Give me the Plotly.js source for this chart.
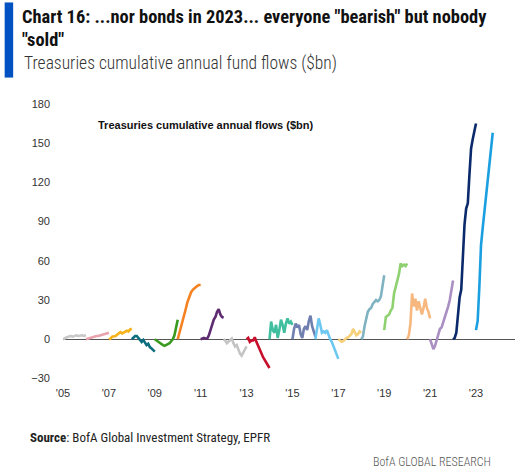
<!DOCTYPE html>
<html><head><meta charset="utf-8">
<script src="https://cdn.plot.ly/plotly-3.0.1.min.js"></script>
<style>body{margin:0;background:#fff}</style>
</head>
<body>
<div id="chart" style="width:515px;height:475px"></div>
<script>
// ---- data: Treasuries cumulative annual fund flows ($bn), one series per calendar year ----
const years = [2005,2006,2007,2008,2009,2010,2011,2012,2013,2014,2015,2016,2017,2018,2019,2020,2021,2022,2023];
const flows2005 = [0, 1, 1.5, 2, 2.5, 2, 2.5, 3, 2.5, 3, 3, 2.5, 3];
const flows2006 = [0, 0.5, 1, 1.5, 2, 2, 2.5, 2.5, 3, 3, 3.5, 4, 5, 5];
const flows2007 = [0, 0.5, 2, 2, 2.5, 3.5, 4.5, 5.5, 4.5, 5, 6, 6.5, 6, 7.5, 8];
const flows2008 = [0, 1.5, 2.5, 2.5, 1, -1, -2, -0.5, -3, -4.5, -3.5, -6, -7, -8.5, -9.5];
const flows2009 = [0, -1, -2, -3, -3.5, -4.5, -5, -4.5, -4, -3, -1.5, 0, 3, 9, 15];
const flows2010 = [0, 5, 10, 16, 22, 28, 33, 36, 38, 39.5, 40.5, 41.5, 41.5];
const flows2011 = [0, 0.5, 1, 0.5, 0.5, 3, 7, 11, 15, 17, 21, 23, 19, 17, 16.5];
const flows2012 = [0, -1, -3, -2, -1, 0.5, -3, -5.5, -4.5, -8, -11, -12.5, -10, -7, -5.5];
const flows2013 = [0, 1, -2, -1, -1, 1.5, -2, -4.5, -8, -10.5, -13.5, -15.5, -18, -20.5, -22];
const flows2014 = [0, 13.5, 7, 5, 11, 1, 7, 15, 11, 5, 12, 16, 12, 13.5, 11];
const flows2015 = [0, 8, 12, 9, 11, 4, 1, 8, 10, 7, 14, 18, 10, 6, 2];
const flows2016 = [0, 10, 16, 11, 5, 6, 5, 7, 3, 0, -2, -5, -8, -12, -15];
const flows2017 = [0, -1, -2, -1.5, 0, 1, 1.5, 2.5, 4, 8, 6, 3, 4, 6, 5];
const flows2018 = [0, 2, 10, 17, 21, 23, 24, 27, 29, 30, 29, 30, 33, 43, 49];
const flows2019 = [7, 17, 18, 19, 22, 24, 35, 40, 43, 50, 58, 56, 57, 56, 58];
const flows2020 = [0, 3, 12, 35, 25, 31, 22, 29, 24, 19, 24, 31, 24, 21, 16];
const flows2021 = [0, -4, -7.5, -5, -1, 4, 8, 9, 13, 16, 21, 25, 30, 39, 45];
const flows2022 = [0, 1, 5, 22, 32, 38, 68, 88, 100, 104, 126, 146, 153, 158, 165];
const flows2023 = [7, 14, 40, 72, 85, 97, 108, 120, 133, 145, 158];
const flowsByYear = [flows2005, flows2006, flows2007, flows2008, flows2009, flows2010, flows2011,
  flows2012, flows2013, flows2014, flows2015, flows2016, flows2017, flows2018, flows2019,
  flows2020, flows2021, flows2022, flows2023];
// fraction of each year covered by the data (2023 is year-to-date)
const yearCoverage = [1,1,1,1,1,1,1,1,1,1,1,1,1,1,1,1,1,1,0.73];
const tickYears = [2005,2007,2009,2011,2013,2015,2017,2019,2021,2023];
const tickLabels = ["'05","'07","'09","'11","'13","'15","'17","'19","'21","'23"];
const yTicks = [-30,0,30,60,90,120,150,180];

// ---- styles ----
const seriesColors = ['#c8c8c8','#e9a3ad','#f5b21a','#0b6e7f','#3a9a1f','#f58220','#5e2b70',
  '#c4c4c4','#c8102e','#3fbf9f','#6f7faf','#6cc8f0','#f7d07a','#80b3c2','#8fd170',
  '#f7b880','#a98fc2','#0b2a6b','#1a9fe0'];

const traces = years.map((yr, i) => {
  const vals = flowsByYear[i];
  const n = vals.length;
  const xs = vals.map((_, k) => yr + yearCoverage[i] * k / (n - 1));
  return {
    type: 'scatter', mode: 'lines', x: xs, y: vals, name: String(yr),
    line: {color: seriesColors[i], width: 2.6, shape: 'linear'},
    hoverinfo: 'skip', showlegend: false
  };
});

// plot-area geometry in pixels
const W = 515, H = 475;
const L = 63.3, R = 0, T = 104.4, B = 90;
const pw = W - L - R, ph = H - T - B;
const px = x => (x - L) / pw;
const py = y => (H - B - y) / ph;

const condensed = 'Roboto Condensed, Roboto, sans-serif';
const arial = 'Liberation Sans, Arial, sans-serif';

const layout = {
  width: W, height: H,
  margin: {l: L, r: R, t: T, b: B, pad: 0},
  paper_bgcolor: '#ffffff', plot_bgcolor: '#ffffff',
  showlegend: false,
  title: {
    text: 'Chart 16: ...nor bonds in 2023... everyone "bearish" but nobody<br>"sold"',
    font: {family: condensed, size: 18.4, weight: 700, color: '#111111'},
    x: 22 / W, xref: 'container', xanchor: 'left',
    y: 1 - 22.5 / H, yref: 'container', yanchor: 'top'
  },
  xaxis: {
    range: [2005, 2024.7], showgrid: false, zeroline: false, showline: false,
    tickmode: 'array', tickvals: tickYears, ticktext: tickLabels, ticks: '',
    tickfont: {family: arial, size: 11, color: '#333333'}, fixedrange: true
  },
  yaxis: {
    range: [-35, 180], showgrid: false, showline: false,
    zeroline: true, zerolinecolor: '#555555', zerolinewidth: 1.5,
    tickmode: 'array', tickvals: yTicks, ticks: '', ticklabelstandoff: 12,
    tickfont: {family: arial, size: 11, color: '#333333'}, fixedrange: true
  },
  shapes: [{
    type: 'rect', xref: 'paper', yref: 'paper',
    x0: px(5), x1: px(13.5), y0: py(78), y1: py(3),
    fillcolor: '#0052c2', line: {width: 0}
  }],
  annotations: [
    {text: 'Treasuries cumulative annual fund flows ($bn)', xref: 'paper', yref: 'paper',
     x: px(22), y: py(64), xanchor: 'left', yanchor: 'middle', showarrow: false,
     font: {family: condensed, size: 17.5, weight: 300, color: '#333333'}},
    {text: '<b>Treasuries cumulative annual flows ($bn)</b>', xref: 'paper', yref: 'paper',
     x: px(96), y: py(125), xanchor: 'left', yanchor: 'middle', showarrow: false,
     font: {family: arial, size: 11, color: '#111111'}},
    {text: '<b>Source</b>: BofA Global Investment Strategy, EPFR', xref: 'paper', yref: 'paper',
     x: px(28), y: py(437), xanchor: 'left', yanchor: 'middle', showarrow: false,
     font: {family: condensed, size: 13, color: '#222222'}},
    {text: 'BofA GLOBAL RESEARCH', xref: 'paper', yref: 'paper',
     x: px(493), y: py(462), xanchor: 'right', yanchor: 'middle', showarrow: false,
     font: {family: condensed, size: 12, weight: 300, color: '#555555'}}
  ]
};

Plotly.newPlot('chart', traces, layout, {displayModeBar: false, staticPlot: true});
</script>
</body></html>
